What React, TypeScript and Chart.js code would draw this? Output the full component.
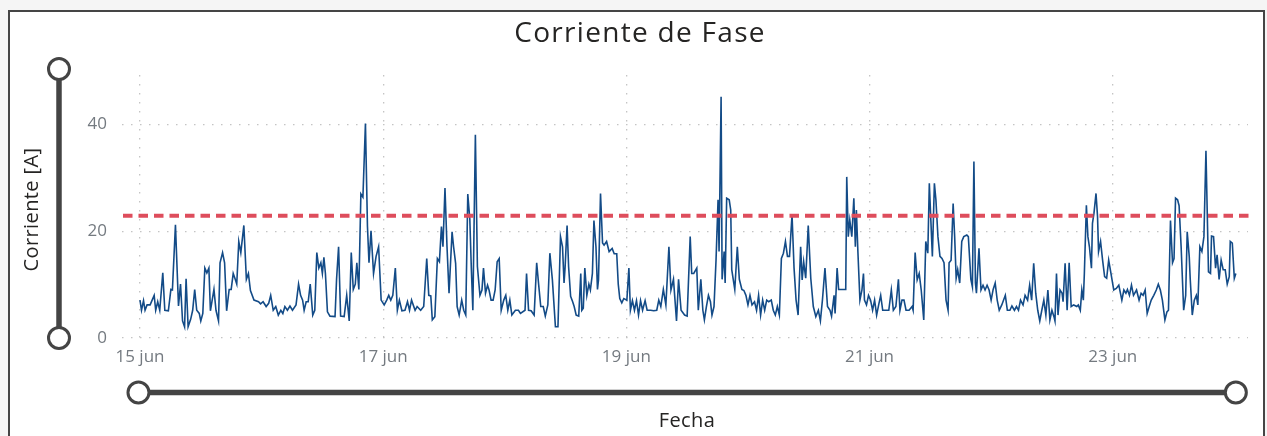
import { useEffect, useRef } from "react";
import { Chart, registerables } from "chart.js";

Chart.register(...registerables);

const TITULO = "Corriente de Fase";
const EJE_Y = "Corriente [A]";
const EJE_X = "Fecha";

// horas desde el 15 jun 00:00
const tickHoras = [0, 48, 96, 144, 192];
const tickEtiquetas = ["15 jun", "17 jun", "19 jun", "21 jun", "23 jun"];
const yTicks = [0, 20, 40];
const umbral = 22.9;

const horas = [
  0, 0.3, 0.7, 1.0, 1.4, 2.0, 2.4, 2.8, 3.1, 3.5, 3.9, 4.5, 4.9, 5.6, 6.1, 6.4, 7.0, 7.6, 8.0, 8.4,
  8.8, 9.1, 9.5, 10.0, 10.4, 10.8, 11.2, 11.7, 12.0, 12.4, 12.8, 13.2, 13.6, 13.9, 14.6, 15.0, 15.5, 15.8, 16.3, 16.7,
  17.1, 17.6, 18.0, 18.4, 18.8, 19.1, 19.5, 19.9, 20.5, 21.0, 21.4, 21.8, 22.5, 23.4, 23.8, 24.3, 24.9, 25.4, 25.8,
  26.3, 26.8, 27.3, 27.8, 28.2, 28.6, 29.1, 29.6, 30.1, 30.8, 31.3, 31.7, 32.1, 32.4, 32.8, 33.2, 33.6, 34.1, 34.5, 34.9,
  35.3, 35.7, 36.0, 36.3, 36.6, 37.0, 37.5, 38.5, 38.8, 39.2, 39.6, 40.3, 40.8, 41.3, 41.7, 42.1, 42.5, 42.8, 43.2, 43.6,
  44.0, 44.5, 44.9, 45.2, 45.6, 46.1, 46.6, 47.1, 47.6, 48.2, 48.7, 49.1, 49.5, 49.9, 50.4, 50.8, 51.2, 51.7, 52.3, 52.8,
  53.2, 53.6,
  54.3, 54.7, 55.4, 56.0, 56.6, 57.0, 57.4, 57.7, 58.2, 58.7, 59.1, 59.5, 59.8, 60.2, 60.6, 61.0, 61.6, 61.9, 62.3, 62.6,
  63.0, 63.5, 63.9, 64.3, 64.7, 65.1, 65.4, 65.7, 66.2, 66.6, 67.1, 67.5, 67.8, 68.2, 68.6, 68.9, 69.3, 69.7, 70.1, 70.5,
  70.9, 71.3, 71.8, 72.2, 72.6, 73.0, 73.4, 74.1, 74.7, 75.1, 76.0, 76.3, 76.7, 77.2, 77.8, 78.3, 78.7, 79.1, 79.6, 80.0,
  80.5,
  80.9, 81.4, 82.0, 82.5, 83.0, 83.4, 83.7, 83.9, 84.3, 84.6, 85.0, 85.4, 85.7, 86.1, 86.6, 87.0, 87.2, 87.5, 87.8, 88.2,
  88.6, 88.9, 89.3, 89.6, 90.0, 90.3, 90.5, 90.9, 91.3, 91.6, 92.1, 92.6, 93.2, 93.6, 94.1, 94.4, 94.7, 95.1, 95.5, 96.1,
  96.5, 96.8, 97.2, 97.6, 98.0, 98.4, 98.8, 99.2, 99.7, 100.1, 100.8, 101.4, 102.0, 102.4, 102.8, 103.3, 103.8, 104.4, 104.8, 105.3,
  105.9, 106.3, 106.8, 107.5, 108.0,
  108.6, 108.9, 109.3, 109.9, 110.2, 110.7, 111.1, 111.4, 111.8, 112.2, 112.6, 112.9, 113.3, 113.7, 114.1, 114.3, 114.7, 114.9, 115.3, 115.5,
  115.8, 116.3, 116.6, 116.8, 117.4, 117.9, 118.3, 118.8, 119.2, 119.6, 120.0, 120.4, 120.8, 121.3, 121.7, 122.1, 122.5, 122.9, 123.3, 123.7,
  124.1, 124.6, 125.0, 125.4, 125.8, 126.2, 126.6, 127.0, 127.4, 127.8, 128.2, 128.7, 129.1, 129.5, 129.9, 130.4, 130.7, 131.0, 131.4, 131.9,
  132.4, 132.9, 133.4, 133.9, 134.3, 134.7, 135.2, 135.7,
  136.2, 136.5, 137.0, 137.2, 137.6, 137.9, 139.3, 139.5, 139.8, 140.1, 140.5, 140.9, 141.2, 141.4, 141.7, 142.1, 142.5, 142.8, 143.0, 143.4,
  143.8, 144.2, 144.6, 145.0, 145.4, 145.8, 146.2, 146.6, 147.1, 147.8, 148.3, 148.7, 149.2, 149.7, 150.0, 150.4, 150.8, 151.2, 151.8, 152.4,
  152.6, 153.0, 153.4, 153.8, 154.2, 154.7, 155.1, 155.5, 155.8, 156.1, 156.4, 156.8, 157.1, 157.5, 157.9, 158.3, 158.7, 159.1, 159.5, 159.7,
  160.1, 160.5, 160.8, 161.1, 161.4, 161.8, 162.2, 162.6, 163.2, 163.5, 164.0, 164.3, 164.6,
  164.9, 165.1, 165.6, 166.0, 166.4, 166.8, 167.2, 167.6, 168.0, 168.4, 168.8, 169.2, 169.6, 170.1, 170.8, 171.2, 171.7, 172.1, 172.6, 173.0,
  173.4, 173.8, 174.3, 174.7, 175.2, 175.6, 176.0, 176.4, 176.8, 177.2, 177.6, 178.0, 178.4, 178.8, 179.2, 179.6, 180.0, 180.4, 180.6, 180.9,
  181.2, 181.6, 182.0, 182.2, 182.6, 183.0, 183.4, 183.8, 184.3, 184.9, 185.2, 185.6, 185.9, 186.2, 186.4, 186.8, 187.1, 187.4, 187.8, 188.0,
  188.3, 188.7, 189.0, 189.2, 189.6, 190.0, 190.4, 190.8, 191.2, 191.6,
  192.2, 192.7, 193.2, 193.8, 194.2, 194.6, 194.9, 195.3, 195.7, 196.1, 196.7, 197.2, 197.6, 198.0, 198.4, 198.8, 199.2, 199.6, 200.1, 200.6,
  201.0, 201.4, 201.8, 202.3, 202.7, 203.0, 203.4, 203.8, 204.1, 204.4, 204.8, 205.1, 205.5, 206.0, 206.4, 206.7, 207.1, 207.3, 207.7, 208.1,
  208.5, 208.8, 209.2, 209.6, 210.0, 210.4, 210.9, 211.3, 211.5, 211.9, 212.3, 212.6, 213.0, 213.4, 213.8, 214.2, 214.6, 215.0, 215.2, 215.6,
  216.0, 216.3,
];

const corriente = [
  7.1, 5.2, 7, 5.2, 6.2, 6.2, 7.1, 8, 5.2, 6.8, 5.2, 12.2, 5.2, 5.1, 9.1, 9, 21.2, 6, 10.1, 3.2,
  2.1, 11.1, 2.1, 3.5, 5.2, 9.1, 5.2, 4.6, 3.2, 4.6, 13.1, 12.2, 13.1, 5.1, 9.1, 5.2, 3.2, 14.1, 16, 14.1,
  5.1, 9.1, 9.1, 12.1, 11, 10.1, 18.1, 16, 21.1, 11, 12.1, 8.9, 7.1, 6.8, 6.4, 6.8, 5.9, 6.5, 8,
  5.2, 5.9, 4.3, 5.2, 4.6, 5.9, 5.2, 6, 5.2, 6.2, 10.1, 8, 7.1, 5.2, 6.8, 6.8, 10.1, 4.3, 5.2, 16,
  13.1, 14.1, 12.1, 15.1, 12.1, 4.9, 4.1, 4, 11, 17.1, 4.1, 4, 8, 3.2, 16, 9.1, 10.1, 14.1, 9.1, 27,
  26.4, 40.2, 20.9, 14.1, 20.1, 12.1, 15.3, 17.1, 7.1, 6.2, 7.1, 8, 7.1, 8, 13.1, 5.2, 7.1, 5.1, 5.2, 6.8,
  5.2, 7.1,
  5.2, 5.9, 5.2, 5.9, 14.9, 8, 7.9, 3.4, 4, 14.9, 14.3, 20.9, 17.1, 28.1, 17.1, 8.4, 19.9, 17.1, 14, 5.9,
  4.3, 7.1, 5.2, 4.3, 27, 22.3, 13.1, 5.2, 38.1, 13.4, 8, 9, 13.1, 8.4, 9.9, 9, 7.1, 7.1, 9, 14.3,
  14.9, 5.2, 7.1, 8, 5.2, 7.1, 4.3, 5.2, 5.2, 4.6, 5.2, 12.1, 5.2, 5.1, 4.3, 14.1, 9.9, 5.9, 5.9, 4.1,
  6.2,
  15.9, 10.9, 2.1, 2.1, 19, 17.1, 10.3, 13.1, 21.1, 13.4, 7.8, 6.8, 5.9, 4.3, 4.1, 12.1, 5.2, 5.6, 13.1, 8,
  10.1, 9, 12.1, 22, 17.1, 9.1, 10.9, 27.1, 17.8, 17.4, 18.1, 16.2, 16.8, 15.8, 15.8, 10.1, 7.4, 6.6, 7.4, 7.1,
  13.1, 5.2, 7, 5.2, 7, 4.3, 7, 5.2, 7, 5.2, 5.2, 5.1, 5.2, 7.1, 5.9, 9.1, 6.2, 17.1, 9, 11,
  3.2, 11, 5.2, 4.3, 4.1,
  19, 12.1, 12.1, 13.1, 5.2, 11, 5.2, 3.4, 5.9, 8, 6.8, 4.3, 5.9, 14.6, 25.9, 16.2, 45.2, 11, 16.2, 10.3,
  26.2, 25.9, 24, 12.8, 9.1, 17.1, 11, 9.1, 8.9, 8, 6.2, 8, 6.2, 6.8, 5.2, 8, 4.3, 7.1, 5.2, 7.1,
  6.8, 7.1, 5.2, 4.3, 5.9, 4.3, 14.9, 15.9, 18.1, 15.3, 15.3, 23.1, 13.1, 7.1, 4.3, 17.1, 10.9, 14.3, 11.2, 21.1,
  11.2, 5.9, 4, 5.2, 3.2, 7.1, 13.1, 5.9,
  5.2, 4.1, 8, 4.6, 13.1, 9.1, 9.1, 30.2, 19, 22.1, 19, 26.2, 17.1, 24, 16.2, 7.1, 9, 12.1, 7.1, 6.2,
  8, 7.1, 5.2, 7.1, 4.3, 6.2, 8, 5.2, 5.2, 5.2, 9, 5.2, 5.9, 11, 5.2, 7.1, 7.1, 5.2, 5.2, 5.9,
  5.2, 16, 10.9, 12.1, 9, 3.4, 18.1, 15.9, 29, 22.1, 15.3, 29, 25.9, 19, 15.3, 14.9, 14.1, 7.1, 5.2, 14.1,
  14.6, 25.2, 19, 11.2, 12.8, 10.3, 18.1, 19, 19.3, 19, 11, 9.6, 33.1,
  10.3, 8.4, 16.8, 9, 9.9, 9, 9.9, 9, 7.1, 9.1, 10.3, 7.1, 5.2, 6.2, 8, 5.2, 5.2, 6, 5.2, 5.9,
  5.2, 7.1, 6.2, 8, 7.1, 9.9, 7.1, 14, 8.4, 5.2, 3.2, 5.2, 7.1, 4.3, 9, 3.4, 5.2, 4, 3.2, 12.1,
  4.3, 9, 8.4, 6.8, 14, 5.2, 14.1, 5.9, 6.2, 5.9, 6.2, 5.2, 9, 7.1, 12.1, 24.9, 19, 17.1, 13.1, 21.5,
  23.4, 27.1, 22.8, 16.2, 18.1, 14.6, 11.5, 11.2, 14.6, 12.4,
  9, 9.3, 9.9, 7.1, 9, 8.4, 9.1, 8, 9.9, 8, 9, 7.1, 8.4, 8, 9, 4.6, 5.9, 7.1, 8, 9,
  10.1, 9, 7.1, 3.4, 4.9, 5.2, 22, 14.1, 14.9, 26.2, 25.9, 24.8, 17.1, 5.2, 8, 19.9, 15.3, 11, 4.3, 7.1,
  8, 6.2, 17.1, 16.2, 19, 35.1, 12.4, 12.1, 19.1, 19, 13.1, 15.6, 11, 14.6, 12.8, 12.8, 10.1, 11.5, 18.1, 17.8,
  11.2, 12.1,
];

const COLOR_LINEA = "#134b87";
const COLOR_UMBRAL = "#de4d5c";
const COLOR_SLIDER = "#444444";
const COLOR_TICK = "#747a80";
const COLOR_GRID = "#c4c4c4";

function circulo(ctx: CanvasRenderingContext2D, x: number, y: number) {
  ctx.beginPath();
  ctx.arc(x, y, 10.5, 0, Math.PI * 2);
  ctx.fillStyle = "#ffffff";
  ctx.fill();
  ctx.lineWidth = 3;
  ctx.strokeStyle = COLOR_SLIDER;
  ctx.stroke();
}

const decoracion = {
  id: "decoracion",
  afterDatasetsDraw(chart: any) {
    const { ctx, chartArea, scales } = chart;
    const yU = scales.y.getPixelForValue(umbral);
    ctx.save();
    ctx.beginPath();
    ctx.rect(chartArea.left, chartArea.top - 5, chartArea.right - chartArea.left + 5, chartArea.bottom - chartArea.top + 5);
    ctx.clip();
    ctx.beginPath();
    ctx.setLineDash([9.5, 6]);
    ctx.lineWidth = 4;
    ctx.strokeStyle = COLOR_UMBRAL;
    ctx.moveTo(chartArea.left + 1, yU);
    ctx.lineTo(chartArea.right + 4, yU);
    ctx.stroke();
    ctx.restore();
  },
  afterDraw(chart: any) {
    const { ctx, chartArea, scales } = chart;
    ctx.save();
    // título
    ctx.fillStyle = "#252423";
    ctx.font = "500 28px 'Open Sans'";
    (ctx as any).letterSpacing = "1.3px";
    ctx.textAlign = "center";
    ctx.textBaseline = "alphabetic";
    ctx.fillText(TITULO, 640, 42);
    // títulos de ejes
    (ctx as any).letterSpacing = "0.4px";
    ctx.fillStyle = "#252423";
    ctx.font = "20px 'Open Sans'";
    ctx.textBaseline = "middle";
    ctx.fillText(EJE_X, (chartArea.left + chartArea.right) / 2 + 2, 421);
    ctx.save();
    ctx.translate(32, (chartArea.top + chartArea.bottom) / 2 + 3);
    ctx.rotate(-Math.PI / 2);
    ctx.fillText(EJE_Y, 0, 0);
    ctx.restore();
    (ctx as any).letterSpacing = "0px";
    // deslizador vertical
    const y0 = scales.y.getPixelForValue(0);
    const yTop = chartArea.top - 6;
    ctx.lineCap = "butt";
    ctx.strokeStyle = COLOR_SLIDER;
    ctx.lineWidth = 5.5;
    ctx.beginPath();
    ctx.moveTo(59, yTop);
    ctx.lineTo(59, y0);
    ctx.stroke();
    circulo(ctx, 59, yTop);
    circulo(ctx, 59, y0);
    // deslizador horizontal
    const xa = scales.x.getPixelForValue(horas[0]) - 1.5;
    const xb = scales.x.getPixelForValue(horas[horas.length - 1]);
    ctx.strokeStyle = COLOR_SLIDER;
    ctx.lineWidth = 5.5;
    ctx.beginPath();
    ctx.moveTo(xa, 392.5);
    ctx.lineTo(xb, 392.5);
    ctx.stroke();
    circulo(ctx, xa, 392.5);
    circulo(ctx, xb, 392.5);
    ctx.restore();
  },
};

export default function App() {
  const ref = useRef<HTMLCanvasElement | null>(null);

  useEffect(() => {
    if (!ref.current) return;
    const puntos = horas.map((h, i) => ({ x: h, y: corriente[i] }));
    const chart = new Chart(ref.current, {
      type: "line",
      data: {
        datasets: [
          {
            label: "Corriente",
            data: puntos,
            borderColor: COLOR_LINEA,
            borderWidth: 1.6,
            pointRadius: 0,
            tension: 0,
            fill: false,
          },
        ],
      },
      options: {
        animation: false,
        responsive: false,
        events: [],
        layout: { padding: { top: 75, right: 19, left: 0, bottom: 0 } },
        plugins: {
          legend: { display: false },
          tooltip: { enabled: false },
          title: { display: false },
        },
        scales: {
          x: {
            type: "linear",
            min: -3.55,
            max: 218.7,
            afterBuildTicks: (s: any) => {
              s.ticks = tickHoras.map((v) => ({ value: v }));
            },
            afterFit: (s: any) => {
              s.height = 98;
            },
            ticks: {
              autoSkip: false,
              maxRotation: 0,
              padding: 9,
              color: COLOR_TICK,
              font: { family: "'Open Sans'", size: 17 },
              callback: (v: any) => {
                const i = tickHoras.indexOf(Number(v));
                return i >= 0 ? tickEtiquetas[i] : "";
              },
            },
            grid: { color: COLOR_GRID, lineWidth: 1.3, drawTicks: false },
            border: { display: false, dash: [1.5, 7.5] },
          },
          y: {
            type: "linear",
            min: 0,
            max: 49.3,
            afterBuildTicks: (s: any) => {
              s.ticks = yTicks.map((v) => ({ value: v }));
            },
            afterFit: (s: any) => {
              s.width = 122;
            },
            ticks: {
              padding: 15,
              color: COLOR_TICK,
              font: { family: "'Open Sans'", size: 17 },
            },
            grid: { color: COLOR_GRID, lineWidth: 1.3, drawTicks: false },
            border: { display: false, dash: [1.5, 7.5] },
          },
        },
      },
      plugins: [decoracion],
    });
    return () => chart.destroy();
  }, []);

  return (
    <div style={{ position: "fixed", left: 0, top: 0, width: 1267, height: 436, background: "#f5f5f5", overflow: "hidden" }}>
      <div
        style={{
          position: "absolute",
          left: 8,
          top: 10,
          width: 1257,
          height: 440,
          boxSizing: "border-box",
          border: "2px solid #454545",
          background: "#ffffff",
        }}
      />
      <canvas ref={ref} width={1267} height={436} style={{ position: "absolute", left: 0, top: 0 }} />
    </div>
  );
}
